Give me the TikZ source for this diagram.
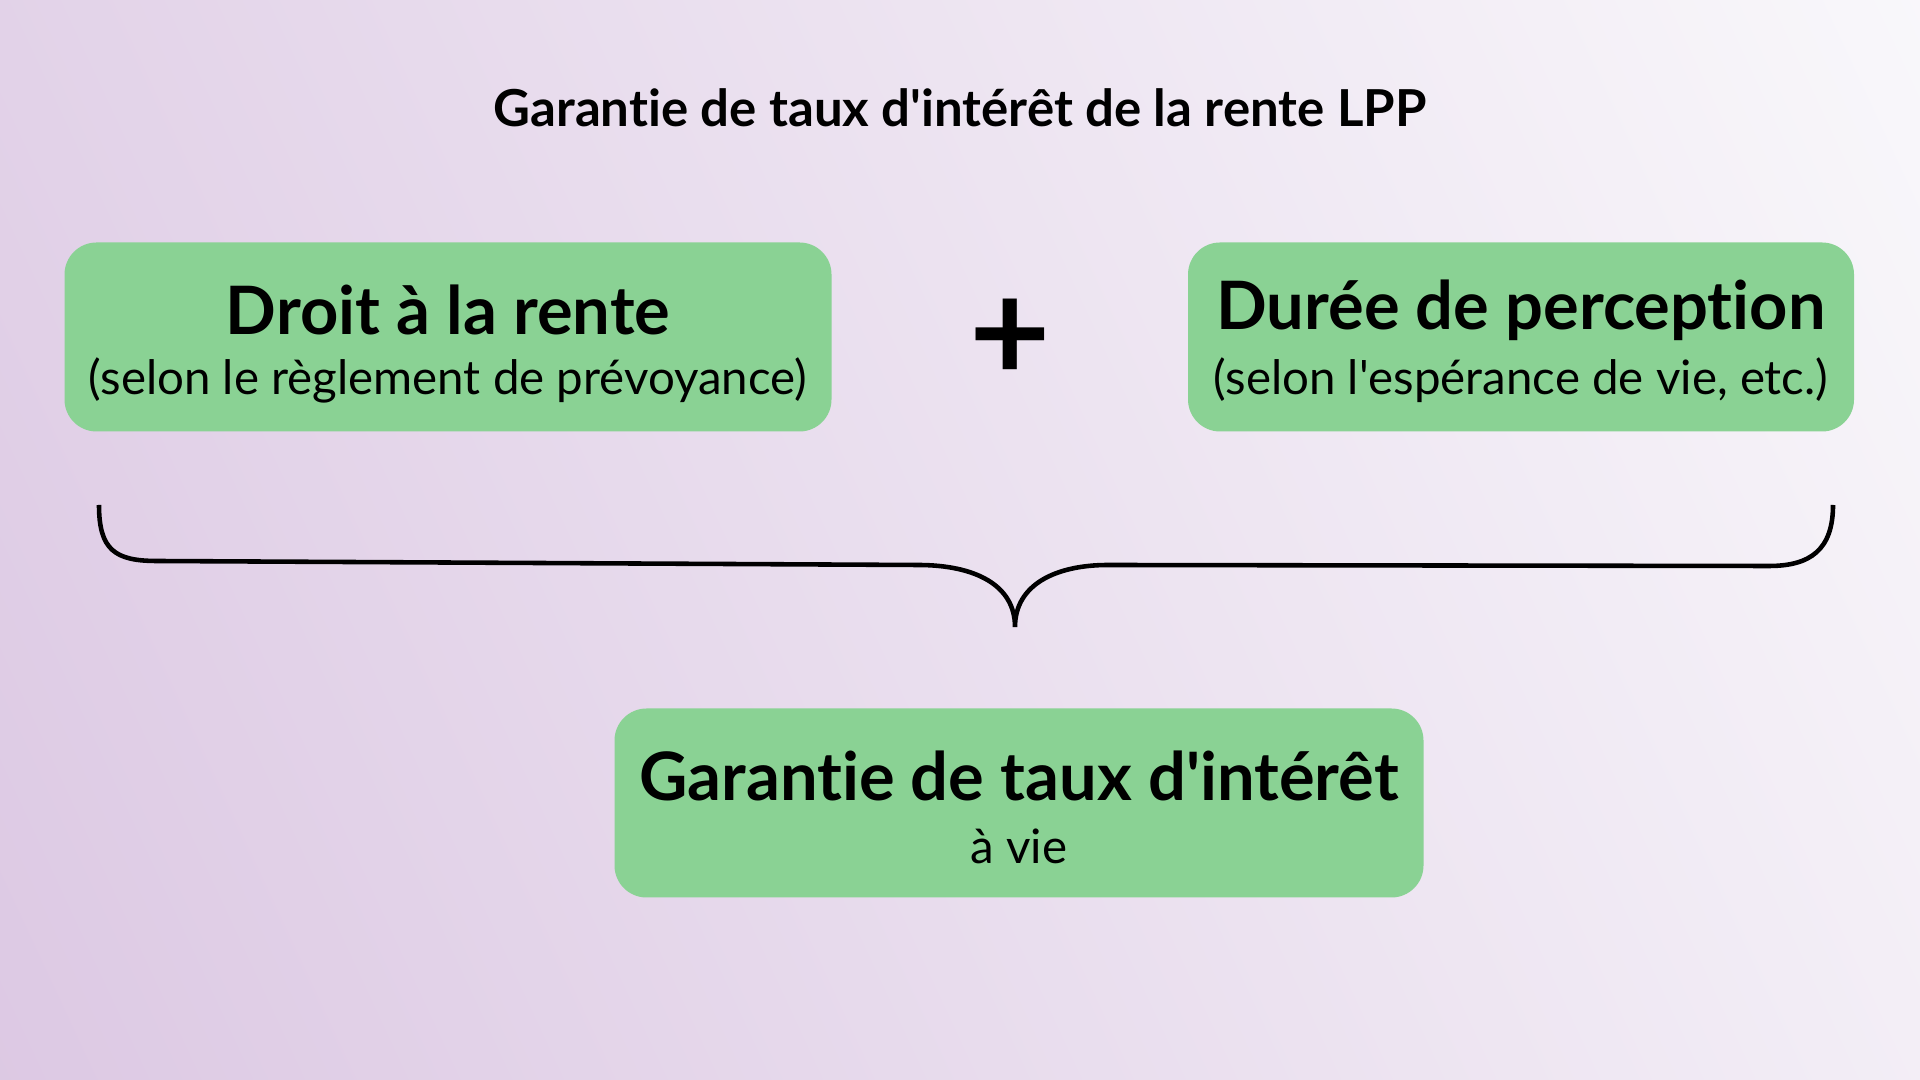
\documentclass[tikz,border=0pt]{standalone}
\usepackage{fontspec}
\setmainfont{Lato}[Ligatures={NoCommon,NoContextual}]
\definecolor{boxgreen}{HTML}{8AD294}
\definecolor{bgleft}{HTML}{DCC8E3}
\definecolor{bgright}{HTML}{F9F8FB}
\tikzset{
  greenbox/.style={draw=none, fill=boxgreen, rounded corners=0.32cm, align=center, inner sep=0pt},
  head/.style={font=\fontsize{19}{23}\selectfont\bfseries},
  sub/.style={font=\fontsize{13.5}{16}\selectfont}
}
\newcommand{\apos}{\textquotesingle}
\begin{document}
\begin{tikzpicture}
\useasboundingbox (0,0) rectangle (19.2,10.8);
\begin{scope}
\clip (0,0) rectangle (19.2,10.8);
\shade[left color=bgleft, right color=bgright, shading angle=115] (-3,-3) rectangle (22.2,13.8);
\end{scope}
\node (title) at (9.6,9.72) {\fontsize{14.5}{17}\selectfont\bfseries Garantie de taux d\apos intérêt de la rente LPP};
% boxes
\node (droit) [greenbox, minimum width=7.67cm, minimum height=1.89cm] at (4.48,7.43) {};
\node at ([yshift=0.27cm]droit.center) [head] {Droit à la rente};
\node at ([yshift=-0.43cm]droit.center) [sub] {(selon le règlement de prévoyance)};
\node (duree) [greenbox, minimum width=6.66cm, minimum height=1.89cm] at (15.21,7.43) {};
\node at ([yshift=0.27cm]duree.center) [head] {Durée de perception};
\node at ([yshift=-0.43cm]duree.center) [sub] {(selon l\apos espérance de vie, etc.)};
\node (plus) at (10.10,7.40) {\fontsize{40}{40}\selectfont\bfseries +};
\node (garantie) [greenbox, minimum width=8.09cm, minimum height=1.89cm] at (10.19,2.77) {};
\node at ([yshift=0.27cm]garantie.center) [head] {Garantie de taux d\apos intérêt};
\node at ([yshift=-0.43cm]garantie.center) [sub] {à vie};
% brace
\coordinate (bl) at (0.99,5.75);
\coordinate (br) at (18.33,5.75);
\coordinate (tip) at (10.15,4.53);
\draw[line width=1.3pt] (bl) .. controls (0.99,5.30) and (1.15,5.19) .. (1.57,5.19)
  -- (9.18,5.15) .. controls (9.75,5.15) and (10.15,4.95) .. (tip)
  .. controls (10.15,4.95) and (10.55,5.15) .. (11.08,5.15)
  -- (17.69,5.14) .. controls (18.10,5.14) and (18.33,5.30) .. (br);
\end{tikzpicture}
\end{document}
